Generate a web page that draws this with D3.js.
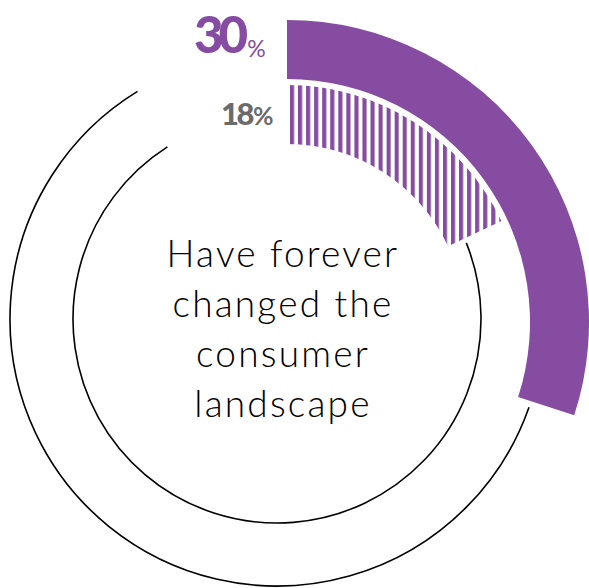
<!DOCTYPE html>
<html>
<head>
<meta charset="utf-8">
<script src="https://cdn.jsdelivr.net/npm/d3@7"></script>
<style>
  html, body { margin: 0; padding: 0; background: #ffffff; }
  svg { display: block; }
</style>
</head>
<body>
<svg id="chart" width="589" height="588"></svg>
<script>
// Share of respondents per ring (outer ring first)
const seriesNames = ["outer", "inner"];
const seriesValues = [30, 18];
const valueLabels = ["30", "18"];
const unitLabel = "%";
const centerLines = ["Have forever", "changed the", "consumer", "landscape"];

const purple = "#864ca1";
const grey = "#6b6b6b";

const svg = d3.select("#chart");

// ring geometry
const cx = 287, cy = 322;
const rings = [
  { inner: 243, outer: 302, trackR: 267, fill: "solid" },
  { inner: 178, outer: 237, trackR: 204, fill: "stripes" }
];
// the thin remainder tracks sit slightly off the arc centre
const trackCx = 277, trackCy = 319;
const trackEndGap = [31.5, 32.5];   // degrees left open before 12 o'clock for the labels
const trackStartPad = [1.3, 3.3];   // degrees after the coloured arc ends

const angle = d3.scaleLinear().domain([0, 100]).range([0, 2 * Math.PI]);
const deg = d => d * Math.PI / 180;

// vertical stripe pattern for the inner ring (in the ring group's coordinates)
const defs = svg.append("defs");
const pat = defs.append("pattern")
  .attr("id", "vstripes")
  .attr("patternUnits", "userSpaceOnUse")
  .attr("x", 3).attr("y", 0)
  .attr("width", 8.05).attr("height", 10);
pat.append("rect")
  .attr("x", 0).attr("y", 0)
  .attr("width", 4.1).attr("height", 10)
  .attr("fill", purple);

// thin remainder tracks
seriesValues.forEach((v, i) => {
  const r = rings[i];
  const a0 = angle(v) + deg(trackStartPad[i]);
  const a1 = 2 * Math.PI - deg(trackEndGap[i]);
  const p = d3.path();
  p.arc(trackCx, trackCy, r.trackR, a0 - Math.PI / 2, a1 - Math.PI / 2);
  svg.append("path")
    .attr("d", p.toString())
    .attr("fill", "none")
    .attr("stroke", "#000")
    .attr("stroke-width", 1.6);
});

// coloured value arcs
const arcGen = d3.arc();
const g = svg.append("g").attr("transform", `translate(${cx},${cy})`);
g.selectAll("path.value")
  .data(seriesValues)
  .join("path")
  .attr("class", (d, i) => "value arc-" + seriesNames[i])
  .attr("d", (v, i) => arcGen({
    innerRadius: rings[i].inner,
    outerRadius: rings[i].outer,
    startAngle: 0,
    endAngle: angle(v)
  }))
  .attr("fill", (v, i) => rings[i].fill === "solid" ? purple : "url(#vstripes)");

// value labels
const labelFont = "Lato, 'Open Sans', sans-serif";
const big = svg.append("text")
  .attr("x", 194).attr("y", 52.5)
  .attr("font-family", labelFont)
  .attr("font-weight", 900)
  .attr("fill", purple);
big.append("tspan")
  .attr("font-size", 51)
  .attr("letter-spacing", -5)
  .text(valueLabels[0]);
big.append("tspan")
  .attr("font-size", 23)
  .attr("dx", 4)
  .attr("dy", 4)
  .attr("font-weight", 400)
  .text(unitLabel);

const small = svg.append("text")
  .attr("x", 221).attr("y", 125)
  .attr("font-family", labelFont)
  .attr("font-weight", 900)
  .attr("fill", grey);
small.append("tspan")
  .attr("font-size", 31)
  .attr("letter-spacing", -2.5)
  .text(valueLabels[1]);
small.append("tspan")
  .attr("font-size", 25)
  .attr("dx", 1)
  .attr("font-weight", 700)
  .text(unitLabel);

// centre caption
svg.append("g")
  .selectAll("text")
  .data(centerLines)
  .join("text")
  .attr("x", 283)
  .attr("y", (d, i) => 267 + i * 50)
  .attr("text-anchor", "middle")
  .attr("font-family", labelFont)
  .attr("font-size", 37)
  .attr("font-weight", 300)
  .attr("letter-spacing", 2.2)
  .attr("fill", "#000")
  .text(d => d);
</script>
</body>
</html>
